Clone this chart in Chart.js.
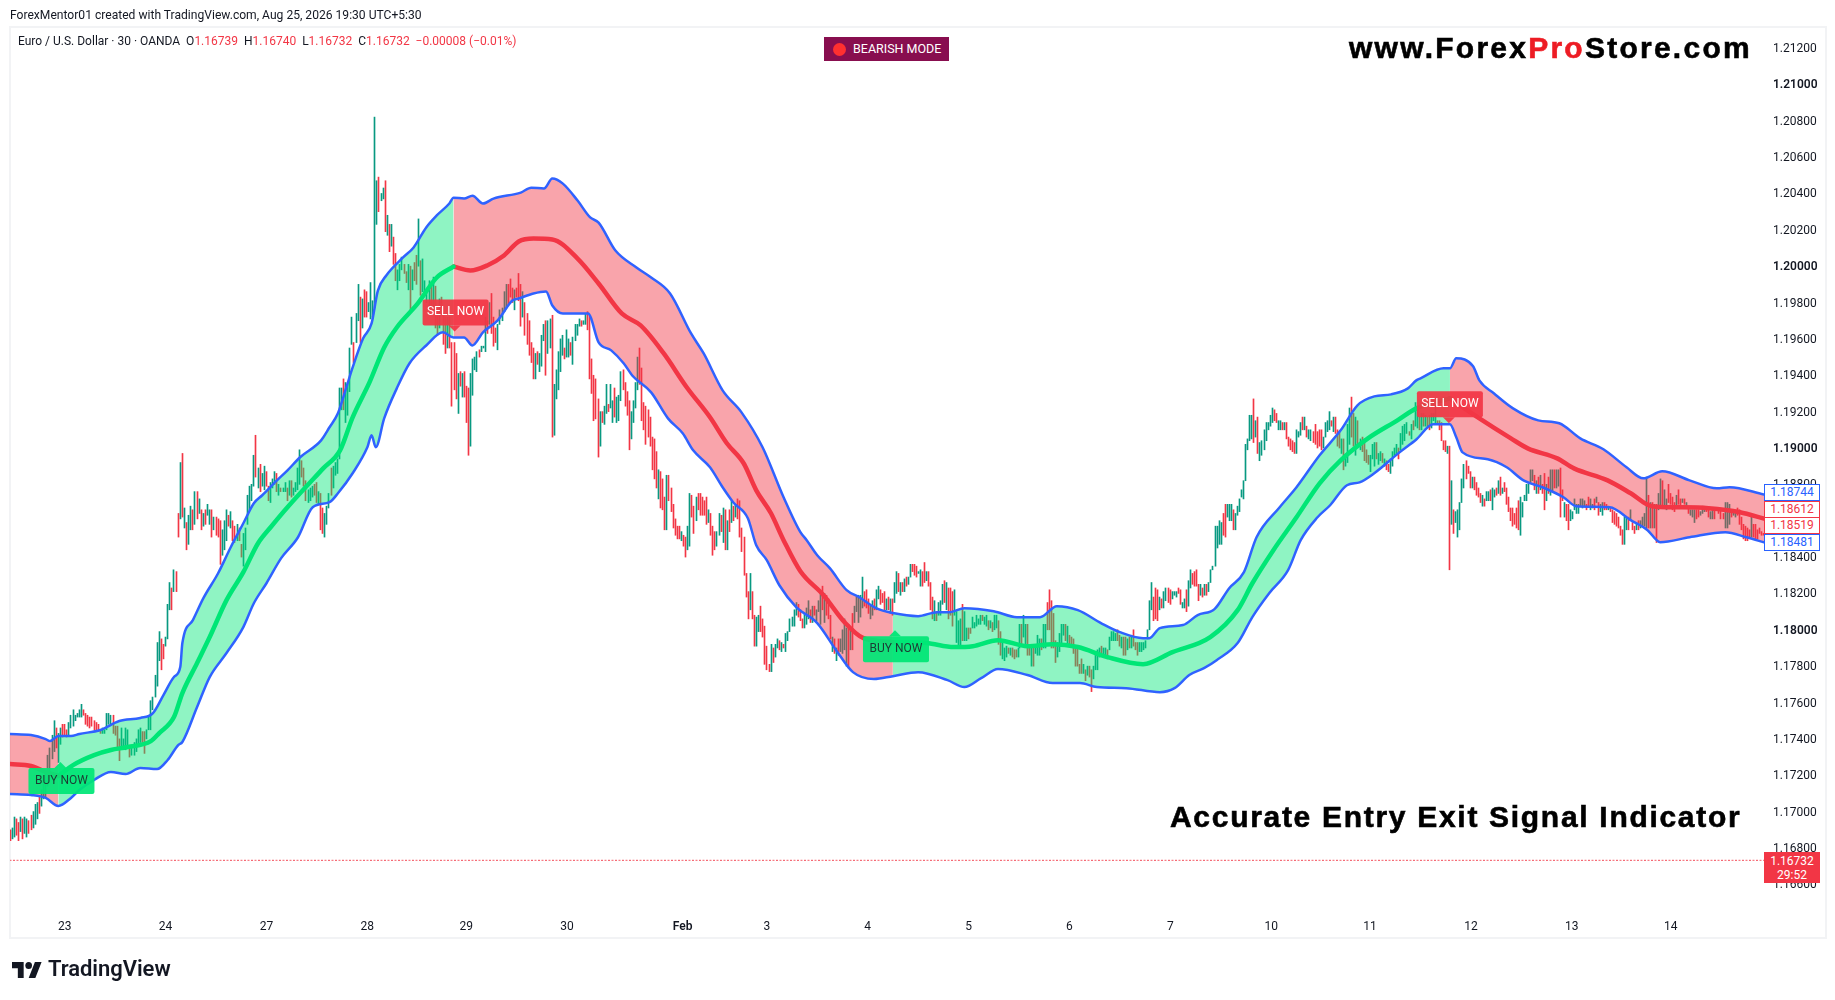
<!DOCTYPE html>
<html><head><meta charset="utf-8">
<script src="https://cdn.jsdelivr.net/npm/chart.js@4"></script>
<style>
html,body{margin:0;padding:0;background:#fff;width:1835px;height:1000px;overflow:hidden;font-family:Roboto,sans-serif;color:#131722}
#frame{position:absolute;left:9px;top:26px;width:1814px;height:909px;border:2px solid #f2f3f5}
canvas{position:absolute;left:0;top:0}
.t{position:absolute;white-space:nowrap}
.v{color:#f23645}
.box{position:absolute;left:1764px;width:54px;height:15px;line-height:15px;text-align:center;font-size:12px;background:#fff;border:1px solid;box-sizing:content-box}
.brand{font-family:"Liberation Sans",Arial,sans-serif;font-weight:700;color:#000;-webkit-text-stroke:.6px #000}
</style></head><body>
<div id="frame"></div>
<canvas id="c" width="1835" height="1000"></canvas>
<div class="t" style="left:10px;top:8px;font-size:12.1px">ForexMentor01 created with TradingView.com, Aug 25, 2026 19:30 UTC+5:30</div>
<div class="t" id="legend" style="left:18px;top:34px;font-size:12px"></div>
<div class="t" style="left:824px;top:37px;width:125px;height:24px;background:#880e4f;color:#fff;font-size:12.5px;line-height:24px"><span style="position:absolute;left:9px;top:6px;width:13px;height:13px;border-radius:50%;background:#ff3030"></span><span style="position:absolute;left:29px">BEARISH MODE</span></div>
<div class="t brand" style="left:1349px;top:31px;font-size:30px;letter-spacing:2.25px">www.Forex<span style="color:#ed1c24;-webkit-text-stroke-color:#ed1c24">Pro</span>Store.com</div>
<div class="t brand" style="left:1170px;top:800px;font-size:30px;letter-spacing:1.7px">Accurate Entry Exit Signal Indicator</div>
<div id="labels"></div>
<svg style="position:absolute;left:12px;top:962px" width="30" height="16" viewBox="0 4 36 18" preserveAspectRatio="none"><path fill="#131722" d="M14 22H7V11H0V4h14v18zM28 22h-8l7.5-18h8L28 22z"/><circle fill="#131722" cx="20" cy="8" r="4"/></svg>
<div class="t" style="left:48px;top:956px;font-size:22px;font-weight:600;letter-spacing:-.05px;color:#131722">TradingView</div>
<script>
// ---------- header / labels ----------
const symbolText="Euro / U.S. Dollar · 30 · OANDA";
const ohlc=[["O","1.16739"],["H","1.16740"],["L","1.16732"],["C","1.16732"]];
const changeText="−0.00008 (−0.01%)";
const lastPrice=1.16732, lastCountdown="29:52";
const sideValues=["1.18744","1.18612","1.18519","1.18481"];
const sideColors=["#2962ff","#f23645","#f23645","#2962ff"];
// ---------- axis ----------
const priceTicks=[1.166,1.168,1.17,1.172,1.174,1.176,1.178,1.18,1.182,1.184,1.186,1.188,1.19,1.192,1.194,1.196,1.198,1.2,1.202,1.204,1.206,1.208,1.21,1.212];
const majorPrices=[1.18,1.19,1.2,1.21];
const dayLabels=["23","24","27","28","29","30","Feb","3","4","5","6","7","10","11","12","13","14"];
const dayBars=[0,48,96,144,191,239,294,334,382,430,478,526,574,621,669,717,764];
// ---------- candles: highs / lows (price x 10000) and direction ----------
const highsA=[11690,11691,11697,11696,11694,11697,11696,11697,11696,11695,11698,11700,11704,11705,11708,11712,11716,11721,11731,11735,11742,11750,11746,11743,11746,11748,
11748,11745,11749,11753,11756,11753,11754,11756,11759,11756,11754,11753,11752,11752,11750,11749,11748,11745,11746,11745,
11754,11754,11753,11753,11747,11747,11740,11746,11740,11746,11745,11735,11735,11738,11740,11745,11746,11744,11744,11745,
11753,11761,11763,11775,11793,11799,11795,11792,11796,11814,11826,11823,11833,11832,11864,11892,11897,11867,11859,11863,
11868,11866,11876,11876,11872,11866,11864,11866,11869,11866,11866,11862,11862,11861,11860,11855,11860,11866,11863,11865,
11860,11857,11858,11856,11847,11853,11856,11874,11879,11880];
const lowsA=[11684,11685,11686,11687,11684,11689,11685,11688,11686,11688,11690,11691,11693,11696,11699,11703,11707,11708,11714,11720,11729,11733,11735,11727,11737,11741,
11742,11741,11742,11746,11747,11750,11752,11752,11752,11753,11748,11747,11746,11747,11745,11745,11744,11743,11743,11743,
11745,11748,11748,11743,11742,11735,11728,11735,11735,11734,11736,11730,11731,11731,11733,11736,11738,11738,11732,11740,
11745,11745,11756,11763,11769,11783,11778,11784,11791,11795,11811,11811,11821,11821,11851,11861,11862,11856,11844,11847,
11855,11855,11858,11861,11864,11855,11857,11858,11863,11858,11851,11855,11852,11851,11836,11841,11844,11849,11857,11856,
11849,11848,11849,11849,11840,11835,11844,11858,11866,11871];
const dirsA="rggrrgrggrrgggrgggggggrggr"+"rrgggggggr"+"rrrrrrrrgg"+"gggrrrrggg"+"grgggggrrg"+"ggggggrrgg"+"grgrrgrgrg"+"grgrgrgrgg"+"rgrrrgggrg"+"rrgrrggggg";
const highsB=[11896,11907,11889,11891,11886,11890,11887,11879,11881,11883,11887,11886,11880,11878,11878,11881,11878,11882,11882,11878,
11881,11889,11899,11893,11889,11882,11877,11878,11879,11880,11881,11876,11875,11867,11864,11868,11875,11889,11890,11892,
11894,11933,11933,11938,11936,11935,11955,11972,11958,11974,11990,11983,11982,11987,11986,11980,11991,11981,12082,12047,
12049,12040,12043,12047,12028,12023,12023,12016,12007,11998,12001,12005,12001,11997,12001,12000,11998,12002,12006,12026,
12003,12004,11992,11987,11992,11989,11994,11989,11976,11982,11983,11974,11972,11972,11972,11958,11958,11952,11941,11942,
11941,11942,11934,11933,11941,11949,11950,11953,11954,11956,11956,11972,11970,11980,11985,11972,11966,11968,11976,11977,
11986,11990,11990,11993,11988,11987,11988,11996];
const lowsB=[11879,11884,11878,11876,11879,11877,11879,11871,11870,11878,11880,11876,11874,11876,11876,11876,11871,11874,11873,11874,
11876,11877,11880,11884,11879,11871,11870,11871,11873,11874,11870,11869,11855,11853,11851,11858,11867,11874,11878,11885,
11886,11894,11921,11921,11914,11918,11931,11957,11947,11958,11970,11958,11966,11972,11972,11975,11971,11972,11977,12023,
12030,12036,12037,12019,12017,12008,12011,12001,11992,11987,11992,11998,11996,11991,11987,11975,11987,11992,11990,12000,
11984,11986,11985,11980,11976,11977,11977,11966,11962,11966,11977,11957,11952,11955,11955,11923,11932,11927,11919,11934,
11928,11928,11914,11896,11901,11929,11943,11942,11950,11953,11955,11953,11963,11968,11963,11956,11958,11954,11968,11970,
11975,11977,11979,11983,11980,11976,11983,11981];
const dirsB="grgrggrrgg"+"grgrggrgrg"+"gggrrrgggr"+"rgrrgggrgg"+"gggrggggrg"+"grgrrggggg"+"rggrgrgrrg"+"ggrrgrgrrg"+"rggggrgrrg"+"rrrgrrrrgr"+"grrrggggrg"+"ggrgrrrggg"+"ggrrrgrr";
const highsC=[11990,11986,11980,11974,11970,11958,11955,11952,11953,11952,11962,11968,11970,11970,11971,11973,11935,11943,11953,11960,
11962,11955,11965,11960,11958,11961,11968,11968,11971,11970,11970,11974,11975,11973,11949,11940,11938,11927,11920,11920,
11923,11935,11924,11935,11926,11933,11928,11929,11942,11943,11936,11931,11926,11920,11926,11936,11950,11955,11944,11925,
11923,11921,11917,11906,11905,11898,11888,11887,11883,11873,11885,11885,11878,11869,11861,11857,11857,11854,11852,11851,
11857,11875,11874,11868,11873,11875,11875,11873,11871,11873,11866,11864,11857,11854,11854,11864,11863,11867,11866,11860,
11866,11871,11868,11869,11872,11871,11856,11851,11831,11821,11831,11821,11808,11807,11808,11813,11806,11802,11791,11781,
11792,11790,11792,11795,11794,11793,11792,11798,11799,11806,11807,11811,11815,11814];
const lowsC=[11967,11972,11962,11957,11951,11947,11938,11938,11946,11942,11945,11959,11940,11952,11955,11906,11907,11927,11932,11942,
11951,11949,11950,11950,11951,11946,11959,11962,11967,11967,11968,11968,11965,11938,11930,11915,11916,11895,11901,11914,
11913,11919,11920,11922,11914,11917,11914,11915,11926,11932,11923,11918,11899,11905,11914,11922,11932,11935,11915,11910,
11902,11906,11901,11888,11883,11878,11872,11867,11866,11855,11855,11871,11865,11856,11852,11850,11850,11849,11846,11840,
11844,11846,11862,11853,11860,11866,11863,11863,11863,11858,11859,11852,11841,11844,11846,11852,11854,11848,11844,11844,
11854,11859,11860,11862,11861,11851,11843,11830,11818,11806,11811,11806,11791,11791,11799,11799,11796,11781,11778,11777,
11777,11782,11785,11790,11789,11788,11790,11788,11794,11799,11802,11802,11808,11807];
const dirsC="rgrrrrrgrg"+"ggrggrgggg"+"grggrggggr"+"ggrrrrrrgr"+"ggrggrgggr"+"rrrggggrrr"+"rrrrrrgrrr"+"grrrrrrgrr"+"ggrrgrrrrr"+"grrrggrgrg"+"rgrgrrrrrr"+"grrggrrrrr"+"grggrgrggg"+"gggr";
const highsD=[11811,11806,11809,11812,11816,11811,11813,11813,11811,11816,11821,11824,11820,11819,11817,11808,11796,11795,11790,11795,
11795,11800,11806,11801,11803,11801,11809,11813,11818,11819,11819,11829,11821,11822,11817,11813,11816,11817,11822,11824,
11822,11820,11821,11817,11818,11817,11817,11826,11832,11831,11826,11826,11828,11829,11829,11836,11836,11836,11835,11832,
11833,11832,11837,11832,11832,11826,11818,11816,11810,11815,11816,11825,11827,11826,11823,11823,11821,11822,11810,11805,
11806,11814,11810,11801,11801,11801,11807,11804,11808,11806,11808,11808,11807,11808,11805,11805,11804,11808,11808,11805,
11799,11794,11790,11791,11790,11790,11790,11789,11789,11790,11803,11803,11808,11803,11803,11791,11790,11791,11792,11797,
11795,11795,11803,11803,11815,11822,11816,11809,11794,11793,11798,11803,11803,11803,11802,11797,11796,11795,11790,11790,
11781,11784,11781,11778,11780,11780,11778,11780,11786,11789,11790,11791,11790,11790,11789,11796,11799,11799,11798,11800,
11797,11796,11796,11796,11795,11796,11797,11800,11793,11793,11793,11793,11793,11794,11800,11816,11826,11818,11823,11822];
const lowsD=[11805,11801,11801,11803,11806,11804,11804,11808,11805,11810,11803,11811,11804,11808,11806,11795,11788,11787,11783,11786,
11788,11787,11789,11780,11779,11789,11789,11804,11810,11804,11807,11812,11813,11812,11809,11806,11808,11811,11811,11817,
11814,11815,11811,11811,11811,11809,11808,11815,11820,11821,11819,11821,11821,11824,11825,11829,11832,11830,11829,11831,
11824,11824,11826,11827,11824,11811,11806,11805,11805,11808,11808,11814,11815,11811,11806,11808,11802,11808,11793,11790,
11790,11794,11794,11794,11795,11798,11801,11801,11802,11803,11803,11805,11803,11802,11800,11801,11799,11800,11801,11792,
11786,11784,11783,11785,11787,11786,11785,11784,11785,11785,11790,11792,11796,11791,11786,11786,11780,11780,11787,11786,
11786,11789,11790,11790,11800,11800,11790,11790,11782,11785,11788,11791,11797,11794,11792,11791,11792,11787,11780,11780,
11776,11776,11776,11772,11775,11774,11766,11773,11778,11778,11785,11787,11786,11786,11784,11789,11794,11794,11794,11794,
11791,11790,11786,11786,11789,11790,11790,11791,11789,11786,11788,11788,11789,11790,11795,11800,11811,11805,11806,11805];
const dirsD="rrgggrgrgg"+"grgrrrgrgr"+"ggggrgrggg"+"ggrrrggrgg"+"rrrgrgrggr"+"grgrggrrrg"+"grrgrrrgrg"+"ggrgrrrggg"+"grggrrgggg"+"grggrgrggr"+"rgggrgrrrg"+"grggrrgrgg"+"grggrrrrrg"+"gggrgrrrrr"+"rrgrgrrggg"+"grggrggggr"+"rgrrgrgrrr"+"gggggggrrr";
const highsE=[11818,11817,11821,11823,11823,11822,11821,11821,11821,11823,11822,11815,11817,11822,11827,11833,11831,11832,11833,11825,
11825,11823,11825,11825,11826,11833,11835,11857,11857,11860,11859,11864,11869,11869,11869,11869,11866,11864,11868,11872,
11877,11882,11902,11905,11918,11918,11927,11915,11917,11903,11904,11910,11914,11914,11918,11922,11921,11919,11915,11915,
11914,11914,11914,11906,11905,11904,11903,11910,11909,11914,11917,11917,11912,11910,11910,11909,11913,11909,11910,11910,
11906,11914,11915,11920,11915,11917,11917,11910,11909,11905,11905,11896,11913,11922,11928,11919,11917,11915,11905,11906,
11905,11899,11896,11896,11902,11903,11903,11897,11898,11897,11894,11893,11891,11894,11898,11900,11902,11900,11908,11912,
11913,11914,11909,11913,11915,11925,11921,11917,11919,11919,11918,11917,11918,11919,11919,11926,11915,11915,11914,11904,11904,11901];
const lowsE=[11811,11812,11812,11816,11815,11814,11817,11819,11818,11820,11814,11812,11812,11810,11813,11823,11825,11824,11824,11816,
11819,11818,11819,11819,11821,11826,11833,11835,11845,11847,11847,11852,11851,11862,11860,11860,11855,11855,11863,11865,
11873,11872,11882,11899,11904,11905,11903,11906,11897,11893,11896,11899,11904,11910,11912,11914,11915,11914,11910,11910,
11910,11910,11905,11901,11899,11898,11897,11897,11906,11907,11910,11910,11906,11905,11904,11903,11902,11900,11901,11899,
11900,11906,11909,11910,11912,11909,11908,11901,11900,11897,11888,11890,11892,11902,11906,11901,11896,11901,11899,11898,
11893,11892,11891,11887,11894,11890,11894,11891,11893,11892,11890,11888,11887,11886,11890,11896,11896,11894,11899,11902,
11904,11908,11907,11905,11910,11912,11911,11910,11910,11912,11912,11911,11910,11911,11915,11913,11913,11910,11904,11899,11898,11897];
const dirsE="grggrrgggr"+"rggrggrrrr"+"grgrgggggg"+"grrgggrggg"+"ggggggrgrg"+"ggggggrrgg"+"rgrrrrrggg"+"rgrggrrrrr"+"ggggrgrrrg"+"rgggrrgrgr"+"rrrgggrggr"+"grrggggrgg"+"ggrgrggrgr"+"grrgggrrrr"+"rg";
const highsF=[11901,11882,11866,11865,11866,11870,11883,11891,11893,11890,11887,11884,11884,11881,11878,11875,11874,11872,11876,11876,
11877,11878,11877,11878,11882,11884,11878,11881,11878,11873,11867,11867,11864,11867,11871,11873,11870,11874,11880,11880,
11888,11888,11885,11882,11884,11885,11880,11886,11880,11884,11888,11888,11888,11888,11888,11889,11877,11870,11869,11869,
11866,11865,11872,11869,11869,11872,11872,11871,11869,11873,11872,11869,11872,11873,11870,11869,11870,11870,11869,11868,
11867,11866,11865,11864,11862,11857,11855,11862,11862,11862,11866,11859,11857,11858,11860,11860,11862,11864,11884,11874,
11870,11870,11869,11869,11875,11883,11882,11877,11872,11880,11875,11873,11870,11874,11877,11872,11872,11872,11870,11867,
11866,11866,11866,11866,11866,11865,11868,11867,11867,11866,11865,11866,11866,11867,11866,11866,11864,11870,11870,11869,
11866,11865,11865,11867,11866,11862,11858,11857,11856,11855,11862,11858,11858,11855,11856,11854,11853];
const lowsF=[11833,11858,11853,11859,11851,11855,11870,11878,11883,11886,11878,11878,11877,11874,11873,11870,11868,11868,11871,11871,
11871,11866,11873,11874,11875,11874,11875,11876,11869,11865,11860,11857,11858,11856,11855,11852,11862,11871,11871,11875,
11881,11882,11877,11875,11875,11877,11875,11866,11871,11875,11874,11876,11878,11878,11879,11862,11871,11862,11860,11855,
11860,11861,11866,11864,11864,11868,11867,11868,11866,11868,11866,11867,11866,11870,11863,11865,11863,11866,11866,11866,
11865,11859,11858,11857,11856,11852,11847,11847,11855,11855,11860,11855,11853,11855,11855,11856,11857,11857,11856,11856,
11856,11856,11856,11848,11866,11867,11868,11867,11866,11870,11869,11866,11865,11867,11869,11868,11870,11869,11867,11864,
11863,11862,11859,11861,11862,11863,11864,11865,11865,11862,11861,11861,11861,11866,11864,11861,11861,11856,11856,11858,
11862,11863,11862,11863,11858,11855,11850,11849,11849,11851,11851,11851,11850,11850,11853,11852,11852];
const dirsF="rgrgggggrr"+"rgrrrrgrgg"+"rggrgrgrrr"+"rrrrrggggg"+"ggrgrgrrgr"+"ggrggrrgrr"+"ggggggggrr"+"ggrgrggrrg"+"rrrrrrrggr"+"grrgrggggr"+"grgrggrggr"+"rrrgrrgrgr"+"gggrrgggrr"+"ggrrrrrggg"+"rggrrrrrrr"+"grrrrrr";
const chunkFirstBar=[-26,90,217,350,521,659];
const chunkLastBar=[89,216,349,520,658,808];
// ---------- indicator bands ----------
const upperBars=[-26,-16,-9,-7,-3,3,7,17,26,36,42,47,52,55,56,61,66,73,79,85,90,94,101,106,112,122,126,130,134,137,142,146,149,153,161,166,172,177,183,185,190,194,199,204,217,222,228,232,237,244,250,254,262,272,279,288,298,304,313,322,332,342,350,353,358,364,372,378,386,394,406,415,421,428,442,453,464,472,482,493,502,513,516,521,532,539,547,554,561,567,578,586,597,607,615,623,631,639,643,645,656,659,662,670,673,680,689,701,711,721,732,743,751,760,773,786,792,808.4];
const upperPrices=[1.17427,1.17421,1.17399,1.17388,1.17416,1.17416,1.17427,1.17449,1.17498,1.17515,1.17542,1.17641,1.1774,1.17795,1.17927,1.18053,1.18174,1.18311,1.18454,1.18586,1.18696,1.1874,1.18822,1.18877,1.18949,1.19042,1.19114,1.19191,1.19333,1.19443,1.19603,1.19685,1.19866,1.19949,1.20048,1.20103,1.20213,1.20279,1.20345,1.20377,1.20372,1.20388,1.20345,1.20372,1.20405,1.20432,1.20427,1.20482,1.20454,1.20361,1.20268,1.2024,1.20086,1.19993,1.19938,1.1985,1.1963,1.1952,1.19317,1.19196,1.19004,1.18729,1.18537,1.18493,1.1841,1.18339,1.18218,1.18179,1.18119,1.18092,1.18075,1.18097,1.18097,1.18119,1.18102,1.18069,1.18069,1.1813,1.18108,1.18037,1.17987,1.17954,1.17954,1.18009,1.18026,1.18081,1.18114,1.18229,1.18317,1.18509,1.18674,1.18784,1.1896,1.19097,1.19235,1.19284,1.19295,1.19328,1.19372,1.19383,1.19438,1.19438,1.19493,1.19449,1.19372,1.193,1.19218,1.19152,1.19136,1.19053,1.18993,1.18894,1.18833,1.18872,1.18822,1.18778,1.18784,1.18744];
const lowerBars=[-26,-16,-9,-3,3,7,14,22,29,36,44,49,54,56,63,69,77,85,90,96,103,111,118,126,130,137,144,146,148,152,158,164,172,180,185,190,194,199,206,213,216,223,229,232,237,249,254,260,266,270,279,287,294,299,307,313,318,325,329,334,340,348,358,367,375,385,394,406,420,428,436,444,458,470,483,491,505,521,528,535,542,548,558,565,573,582,588,596,602,610,616,623,635,643,651,659,662,665,677,686,694,703,713,719,735,745,753,759,773,790,800,808.4];
const lowerPrices=[1.17097,1.17091,1.17075,1.17031,1.17075,1.17119,1.17174,1.17218,1.17207,1.1724,1.17234,1.17284,1.17366,1.17383,1.17575,1.1774,1.17872,1.18015,1.18146,1.18256,1.18394,1.18509,1.18674,1.18702,1.18751,1.18861,1.19004,1.1907,1.19004,1.19163,1.19328,1.19465,1.19564,1.19636,1.19608,1.19608,1.19564,1.19636,1.19702,1.19811,1.19822,1.1985,1.19861,1.19784,1.1974,1.1974,1.19581,1.19537,1.19465,1.19399,1.19306,1.19163,1.19081,1.18987,1.18894,1.18784,1.18702,1.18614,1.18465,1.18383,1.18245,1.18125,1.18037,1.17888,1.17767,1.17729,1.17745,1.17767,1.17723,1.17685,1.17734,1.17784,1.17751,1.17707,1.17707,1.17685,1.17679,1.17657,1.17679,1.17751,1.17789,1.17833,1.17927,1.1807,1.18201,1.18328,1.18493,1.18619,1.18685,1.18795,1.18811,1.18861,1.18976,1.19047,1.1913,1.1913,1.19059,1.18976,1.18938,1.18894,1.18822,1.18784,1.18729,1.1868,1.18674,1.18603,1.18548,1.18482,1.18509,1.18537,1.18509,1.18481];
const midBars=[-26,-16,-9,-3,4,14,22,30,41,45,52,56,63,69,77,85,92,98,106,123,131,137,145,152,158,168,177,185,193,201,209,216,223,232,244,254,265,274,285,296,307,315,323,329,336,342,350,361,371,380,394,410,423,432,444,458,470,482,496,513,527,545,558,565,575,586,597,607,620,634,643,659,673,688,696,710,718,734,745,755,767,782,797,808.4];
const midPrices=[1.17262,1.17251,1.17218,1.17196,1.17256,1.17311,1.17339,1.17355,1.17388,1.17432,1.1752,1.17652,1.17817,1.1796,1.18163,1.18317,1.18476,1.18564,1.18674,1.18888,1.18987,1.19169,1.19361,1.19553,1.19663,1.19795,1.19938,1.19998,1.19976,1.20004,1.20059,1.20136,1.20152,1.20147,1.20042,1.19905,1.1974,1.19674,1.1952,1.19333,1.19169,1.19026,1.18916,1.18767,1.18641,1.18493,1.18322,1.1819,1.18042,1.17954,1.17932,1.17927,1.17905,1.1791,1.17943,1.1791,1.17921,1.17905,1.1785,1.17811,1.17877,1.1796,1.18108,1.18256,1.18438,1.18619,1.18806,1.18932,1.19053,1.19152,1.19218,1.19273,1.19163,1.19053,1.18998,1.18943,1.18888,1.18822,1.18751,1.1868,1.18674,1.18669,1.18647,1.18612];
const regimeStarts=[-26,-3,185,394,659,808.4];
const regimeBull=[false,true,false,true,false];
// ---------- signals ----------
const signalText=["BUY NOW","SELL NOW","BUY NOW","SELL NOW"];
const signalBars=[-2,185.5,395,658.5];
const signalPrices=[1.17273,1.19641,1.17998,1.19136];
// ---------- build ----------
const GREEN="#089981",RED="#f23645",BLUE="#2f62ff",MINT="#00e676";
const chunks=[[highsA,lowsA,dirsA],[highsB,lowsB,dirsB],[highsC,lowsC,dirsC],[highsD,lowsD,dirsD],[highsE,lowsE,dirsE],[highsF,lowsF,dirsF]];
const candleData=[],candleColors=[];
chunks.forEach(([h,l,d],k)=>{const n=h.length;h.forEach((v,j)=>{
  candleData.push({x:chunkFirstBar[k]+(chunkLastBar[k]-chunkFirstBar[k])*j/(n-1),y:[l[j]/10000,v/10000]});
  candleColors.push(d[j]==="g"?GREEN:RED);});});
const pts=(xs,ys,a=-1e9,b=1e9)=>xs.map((x,i)=>({x,y:ys[i]})).filter(p=>p.x>=a&&p.x<=b);
const lineBase={type:"line",pointRadius:0,cubicInterpolationMode:"monotone",borderJoinStyle:"round",borderCapStyle:"round",fill:false};
const datasets=[];
datasets.push({type:"bar",data:candleData,backgroundColor:candleColors,barThickness:1,grouped:false,order:20,borderWidth:0});
regimeBull.forEach((bull,i)=>{const a=regimeStarts[i],b=regimeStarts[i+1];
  const idx=datasets.length;
  datasets.push({...lineBase,data:pts(upperBars,upperPrices,a,b),borderWidth:0,borderColor:"rgba(0,0,0,0)",
    fill:{target:idx+1},backgroundColor:bull?"rgba(0,230,118,.44)":"rgba(242,54,69,.45)",order:10+i});
  datasets.push({...lineBase,data:pts(lowerBars,lowerPrices,a,b),borderWidth:0,borderColor:"rgba(0,0,0,0)",order:10+i});
  datasets.push({...lineBase,data:pts(midBars,midPrices,a,b),borderWidth:4.5,borderColor:bull?MINT:RED,order:2});
});
datasets.push({...lineBase,data:pts(upperBars,upperPrices),borderWidth:2.5,borderColor:BLUE,order:3});
datasets.push({...lineBase,data:pts(lowerBars,lowerPrices),borderWidth:2.5,borderColor:BLUE,order:3});
datasets.push({...lineBase,data:[{x:-26,y:lastPrice},{x:808.4,y:lastPrice}],borderWidth:1,borderColor:RED,borderDash:[1,2.5],order:1});

const FONT="Roboto, sans-serif";
const crispPlugin={id:"crisp",afterDatasetsUpdate(ch){
  ch.getDatasetMeta(0).data.forEach(e=>{e.x=Math.round(e.x-.5)+.5;e.width=1;});
}};
const signalPlugin={id:"signals",afterDatasetsDraw(ch){
  const c=ch.ctx,xs=ch.scales.x,ys=ch.scales.y;
  signalText.forEach((t,i)=>{
    const x=xs.getPixelForValue(signalBars[i]),y=ys.getPixelForValue(signalPrices[i]);
    const buy=t.startsWith("BUY");const col=buy?MINT:RED;
    const w=66,h=26,ah=6;
    const top=buy?y+ah:y-ah-h;
    c.save();c.globalAlpha=.93;c.fillStyle=col;
    c.beginPath();c.roundRect(x-w/2+1,top,w,h,2);c.fill();
    c.beginPath();
    if(buy){c.moveTo(x-6,top);c.lineTo(x,y);c.lineTo(x+6,top);}else{c.moveTo(x-6,top+h);c.lineTo(x,y);c.lineTo(x+6,top+h);}
    c.closePath();c.fill();c.globalAlpha=1;
    c.fillStyle=buy?"#1d3b34":"#fff";c.font="12px "+FONT;c.textAlign="center";c.textBaseline="middle";
    c.fillText(t,x+1,top+h/2);c.restore();
  });
}};
new Chart(document.getElementById("c"),{
  type:"line",
  data:{datasets},
  plugins:[crispPlugin,signalPlugin],
  options:{
    responsive:false,animation:false,events:[],devicePixelRatio:1,
    layout:{padding:{left:10,top:28,right:10,bottom:61}},
    plugins:{legend:{display:false},tooltip:{enabled:false}},
    scales:{
      x:{type:"linear",min:-26,max:808.4,offset:false,
        grid:{display:false,drawTicks:false},border:{display:false},
        afterFit(s){s.height=28;},
        afterBuildTicks(s){s.ticks=dayBars.map(v=>({value:v}));},
        ticks:{autoSkip:false,maxRotation:0,padding:9,color:"#131722",
          font:c=>({family:FONT,size:12,weight:c.tick&&dayLabels[dayBars.indexOf(c.tick.value)]==="Feb"?"600":"400"}),
          callback:v=>dayLabels[dayBars.indexOf(v)]}},
      y:{type:"linear",position:"right",min:1.164532,max:1.213102,
        grid:{display:false,drawTicks:false},border:{display:false},
        afterFit(s){s.width=61;},
        afterBuildTicks(s){s.ticks=priceTicks.map(v=>({value:v}));},
        ticks:{autoSkip:false,padding:9,labelOffset:1,color:"#131722",
          font:c=>({family:FONT,size:12,weight:c.tick&&majorPrices.includes(c.tick.value)?"600":"400"}),
          callback:v=>v.toFixed(5)}}
    }
  }
});
// ---------- text overlays ----------
document.getElementById("legend").innerHTML=symbolText+"&nbsp; "+ohlc.map(([k,v])=>k+'<span class="v">'+v+"</span>").join("&nbsp; ")+'&nbsp; <span class="v">'+changeText+"</span>";
const labels=document.getElementById("labels");
const sideTops=[484,500.5,517,534];
sideValues.forEach((v,i)=>{const d=document.createElement("div");d.className="box";d.style.top=sideTops[i]+"px";d.style.borderColor=sideColors[i];d.style.color=sideColors[i];d.textContent=v;labels.appendChild(d);});
const lastBox=document.createElement("div");lastBox.className="t";
lastBox.style.cssText="left:1764px;top:852px;width:56px;height:31px;background:#f23645;color:#fff;font-size:12px;line-height:14px;text-align:center;padding-top:2px;box-sizing:border-box";
lastBox.innerHTML=lastPrice.toFixed(5)+"<br>"+lastCountdown;labels.appendChild(lastBox);
</script>
</body></html>
